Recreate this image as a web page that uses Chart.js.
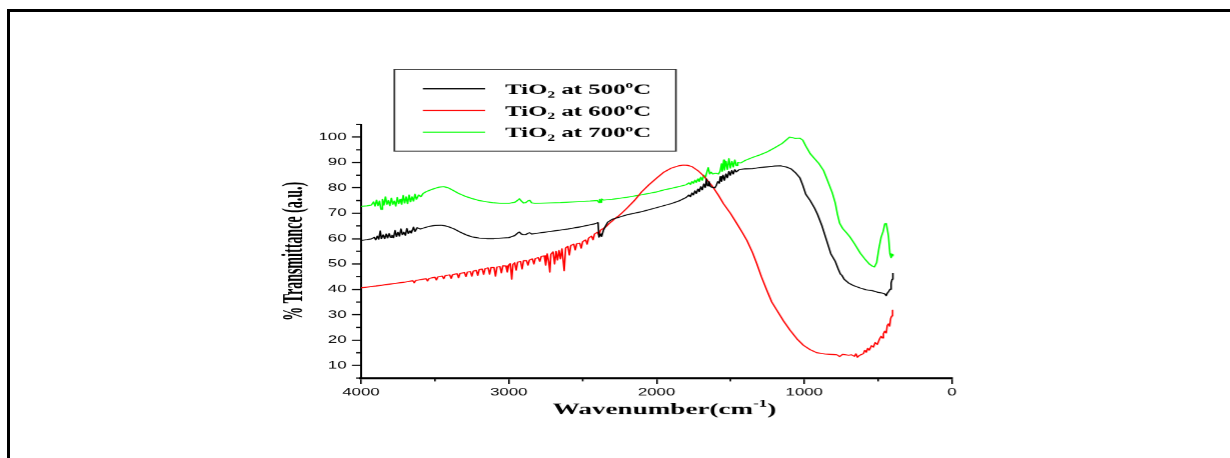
<!DOCTYPE html>
<html>
<head>
<meta charset="utf-8">
<title>FTIR TiO2</title>
<script src="https://cdn.jsdelivr.net/npm/chart.js@4.4.1/dist/chart.umd.min.js"></script>
<style>
  html, body { margin: 0; padding: 0; background: #fff; overflow: hidden; }
  #page { position: relative; width: 1230px; height: 458px; }
  #frame { position: absolute; left: 7px; top: 9px; right: 0; bottom: 0; border-top: 3px solid #000; border-left: 3px solid #000; }
  /* the original figure is stretched sideways, so the chart is drawn narrow and widened */
  #stretch { position: absolute; left: 0; top: 0; width: 769px; height: 458px; transform: scaleX(1.6); transform-origin: 0 0; }
</style>
</head>
<body>
<div id="page">
  <div id="frame"></div>
  <div id="stretch"><canvas id="ftirChart"></canvas></div>
</div>
<script>
const xTicks = [4000, 3000, 2000, 1000, 0];
const xMinorTicks = [3500, 2500, 1500, 500];
const yTicks = [10, 20, 30, 40, 50, 60, 70, 80, 90, 100];
const yMinorTicks = [5, 15, 25, 35, 45, 55, 65, 75, 85, 95, 105];
const temps = ['500', '600', '700'];
const xTitle = ['Wavenumber(cm', '-1', ')'];
const yTitle = '% Transmittance (a.u.)';

// [wavenumber, % transmittance]
const tio2At500 = [
  [4000, 59.3], [3960, 59.6], [3930, 59.9], [3910, 60.5], [3900, 59.5], [3890, 61], [3880, 59.8],
  [3870, 63], [3862, 60], [3850, 61.5], [3840, 60], [3830, 61.8], [3820, 60.3], [3810, 62],
  [3800, 60.5], [3790, 61.3], [3780, 60.4], [3770, 63.2], [3760, 60.8], [3750, 62.5], [3740, 61],
  [3730, 63.8], [3720, 61.5], [3710, 62.5], [3700, 61.3], [3690, 64], [3680, 62], [3670, 63],
  [3660, 62.2], [3645, 64.5], [3635, 62.8], [3620, 64.3], [3600, 63.8], [3570, 64.3], [3540, 64.8],
  [3500, 65.2], [3460, 65.3], [3430, 65], [3400, 64.5], [3370, 63.8], [3330, 62.6], [3290, 61.5],
  [3250, 60.7], [3200, 60.2], [3150, 60], [3100, 60], [3050, 60.2], [3000, 60.4], [2960, 61.2],
  [2940, 62.2], [2928, 62.6], [2915, 61.8], [2900, 61.5], [2885, 61.6], [2870, 62.1], [2858, 62.3],
  [2845, 61.8], [2800, 62.2], [2700, 63], [2600, 63.8], [2500, 64.8], [2420, 65.8], [2396, 66.3],
  [2390, 60.6], [2380, 61.8], [2372, 60.8], [2360, 63.2], [2345, 65], [2330, 66.5],
  [2300, 67.6], [2250, 68.5], [2200, 69.4], [2100, 70.6], [2000, 72.2], [1900, 73.8], [1850, 74.8],
  [1800, 76.2], [1780, 77.2], [1770, 76.5], [1760, 78], [1750, 77.2], [1740, 78.8], [1730, 77.8],
  [1720, 79.5], [1710, 78.5], [1700, 80.5], [1690, 79.2], [1680, 81.5], [1670, 80.2], [1662, 83.5],
  [1655, 80.8], [1645, 82.5], [1635, 80.5], [1620, 80.2], [1605, 80], [1595, 81], [1585, 82.5],
  [1575, 81.8], [1568, 84.5], [1560, 82.5], [1550, 85], [1540, 83], [1530, 85.5], [1520, 84],
  [1510, 86.5], [1500, 85], [1490, 86.8], [1480, 85.5], [1470, 87.2], [1460, 86.3], [1440, 87.2],
  [1400, 87.5], [1350, 87.6], [1300, 88], [1250, 88.3], [1200, 88.6], [1160, 88.7], [1120, 88.2],
  [1090, 87.5], [1060, 86], [1030, 84], [1010, 81], [990, 77.5], [960, 75], [930, 72], [910, 69.5],
  [880, 65], [850, 59.5], [820, 54], [790, 51], [770, 48], [755, 46], [745, 45.5], [730, 44],
  [700, 42.5], [667, 41.5], [620, 40.5], [580, 39.8], [540, 39.5], [500, 38.8], [470, 38.5],
  [455, 38.2], [445, 37.5], [438, 38.5], [430, 39], [420, 40], [412, 42.5], [405, 44], [400, 46.5],
];

const tio2At600 = [
  [4000, 40.6], [3900, 41.3], [3800, 42.1], [3700, 42.9], [3650, 43.4], [3640, 42.6], [3630, 43.5],
  [3600, 43.8], [3560, 44.2], [3550, 43.3], [3540, 44.3], [3500, 44.8], [3490, 43.7], [3480, 44.9],
  [3450, 45.2], [3440, 44.2], [3430, 45.4], [3400, 45.7], [3390, 44.3], [3380, 45.8], [3350, 46.2],
  [3340, 44.6], [3330, 46.3], [3300, 46.6], [3290, 45], [3280, 46.8], [3260, 47], [3250, 45.2],
  [3240, 47.2], [3220, 47.5], [3210, 45.5], [3200, 47.8], [3180, 48], [3170, 45.9], [3160, 48.2],
  [3140, 48.5], [3130, 46], [3120, 48.6], [3100, 48.6], [3090, 45.2], [3080, 48.8], [3060, 49],
  [3050, 46.5], [3040, 49.3], [3020, 49.2], [3010, 46.8], [3000, 49.6], [2990, 50.2], [2980, 44],
  [2972, 49.8], [2960, 50.5], [2950, 47.5], [2940, 50.7], [2920, 51], [2910, 48], [2900, 51.3],
  [2880, 51.3], [2870, 49.5], [2860, 51.6], [2840, 52], [2830, 50], [2820, 52.2], [2800, 52.5],
  [2790, 51], [2780, 53], [2760, 53.2], [2750, 49.5], [2740, 54], [2730, 51], [2722, 46.8],
  [2715, 53.8], [2700, 54.8], [2690, 50], [2680, 55], [2670, 51.5], [2660, 55.3], [2650, 52],
  [2640, 56], [2625, 47.3], [2615, 56.3], [2600, 57], [2590, 53.5], [2580, 57.3], [2560, 57.8],
  [2550, 55.5], [2540, 58], [2520, 58.2], [2510, 56.2], [2500, 58.8], [2480, 59.5], [2470, 57.8],
  [2460, 60.2], [2440, 61], [2430, 59.5], [2420, 61.8], [2400, 62.5], [2390, 61.2], [2380, 63.3],
  [2360, 64], [2340, 64.8], [2320, 66], [2300, 66.9], [2280, 68], [2260, 68.8], [2240, 69.8],
  [2200, 72], [2150, 75], [2100, 78.5], [2050, 81.3], [2000, 83.8], [1950, 86.2], [1900, 87.8],
  [1850, 88.7], [1820, 89], [1790, 88.9], [1760, 88.4], [1720, 86.8], [1690, 85.2], [1660, 83.3],
  [1620, 80.5], [1580, 77], [1546, 73.7], [1500, 70], [1456, 65.9], [1420, 62.5], [1388, 59.3],
  [1350, 54.5], [1321, 50.1], [1290, 45], [1253, 39.6], [1220, 35], [1185, 31.7], [1140, 27.5],
  [1095, 23.8], [1050, 20.5], [1005, 17.9], [960, 16.2], [914, 15], [860, 14.5], [800, 14.3],
  [779, 14.2], [760, 13.5], [740, 14.4], [700, 14], [680, 14.2], [660, 13.6], [650, 14.6],
  [640, 13.2], [630, 13.8], [615, 14.3], [600, 14.6], [590, 16], [580, 15.2], [570, 16.8],
  [560, 16], [545, 17.8], [532, 17.2], [520, 19], [505, 18.3], [490, 20.5], [480, 21.5],
  [470, 20.8], [464, 22.5], [455, 23.5], [445, 22.8], [438, 25.8], [430, 26.4], [422, 25.5],
  [415, 28.5], [408, 29.5], [404, 31.8], [400, 31.7],
];

const tio2At700 = [
  [4000, 72.7], [3960, 72.9], [3930, 73.2], [3915, 74.5], [3905, 72.8], [3895, 75.2], [3885, 73],
  [3875, 74.8], [3865, 71.5], [3855, 75.5], [3845, 73.2], [3835, 76.5], [3825, 73.5], [3815, 75],
  [3805, 73], [3795, 76], [3785, 73.5], [3775, 74.8], [3765, 72.8], [3755, 76.2], [3745, 73.8],
  [3735, 75.5], [3725, 73.5], [3715, 77], [3705, 74], [3695, 76.5], [3685, 73.8], [3675, 77.2],
  [3665, 74.5], [3655, 76.5], [3645, 74.8], [3635, 77.5], [3625, 75.5], [3610, 77.2], [3595, 76.5],
  [3580, 77.8], [3560, 78.5], [3530, 79.2], [3500, 79.8], [3470, 80.3], [3440, 80.5], [3410, 80],
  [3380, 79.1], [3340, 77.8], [3300, 76.8], [3250, 75.8], [3200, 75], [3150, 74.5], [3100, 74.1],
  [3050, 73.9], [3000, 73.9], [2960, 74.3], [2940, 75.1], [2928, 75.7], [2915, 74.8], [2900, 74],
  [2885, 74.2], [2870, 74.9], [2858, 75.1], [2845, 74.1], [2820, 73.9], [2750, 74], [2650, 74.2],
  [2550, 74.5], [2450, 74.8], [2400, 75], [2390, 74.2], [2385, 75.5], [2378, 74.3], [2372, 75.6],
  [2360, 75.2], [2300, 75.5], [2200, 76.3], [2100, 77.3], [2000, 78.4], [1950, 79.2], [1900, 79.8],
  [1850, 80.5], [1800, 81.2], [1780, 82], [1770, 81.3], [1760, 82.5], [1750, 81.8], [1740, 83],
  [1730, 82.2], [1720, 83.5], [1710, 82.5], [1700, 84.2], [1690, 83], [1680, 85], [1670, 84],
  [1660, 86], [1650, 88], [1640, 85.5], [1630, 86.2], [1620, 85.5], [1600, 85.8], [1580, 85.5],
  [1570, 86.5], [1560, 89.5], [1555, 86.5], [1545, 91], [1540, 87], [1530, 90.5], [1520, 87.2],
  [1510, 91.5], [1500, 87.8], [1490, 90.5], [1480, 88.2], [1470, 91], [1460, 88.8], [1450, 90],
  [1430, 89.8], [1400, 90.8], [1350, 92], [1300, 93], [1250, 94.2], [1200, 95.8], [1150, 97.5],
  [1120, 99], [1100, 100], [1080, 99.8], [1060, 99.5], [1030, 99.6], [1010, 98.8], [990, 96.5],
  [960, 93.5], [930, 91.5], [900, 89.5], [870, 86.9], [850, 84], [830, 81], [810, 78], [790, 74],
  [775, 69.5], [760, 66], [740, 64], [710, 62], [690, 60.6], [660, 58], [620, 54.2], [590, 52],
  [560, 50], [540, 49.2], [525, 48.8], [510, 50.5], [495, 56], [480, 60.5], [465, 63], [455, 65.8],
  [445, 66], [437, 63.5], [430, 61], [420, 54], [412, 52.5], [405, 53.8], [400, 53.2],
];

const toPoints = (rows) => rows.map(([x, y]) => ({ x, y }));

const serif = '"Liberation Serif", "Times New Roman", serif';

// draws text pieces [text, size, dy] on one line, widened by sx, starting at x
function drawRich(ctx, parts, x, y, sx) {
  ctx.save();
  ctx.translate(x, y);
  ctx.scale(sx, 1);
  let tx = 0;
  parts.forEach(([text, size, dy]) => {
    ctx.font = `bold ${size}px ${serif}`;
    ctx.fillText(text, tx, dy);
    tx += ctx.measureText(text).width;
  });
  ctx.restore();
}

function richWidth(ctx, parts) {
  return parts.reduce((w, [text, size]) => {
    ctx.font = `bold ${size}px ${serif}`;
    return w + ctx.measureText(text).width;
  }, 0);
}

// short unlabelled ticks between the numbered ones
const minorTicks = {
  id: 'minorTicks',
  afterDraw(chart) {
    const { ctx, scales: { x, y } } = chart;
    ctx.save();
    ctx.strokeStyle = '#000';
    ctx.lineWidth = 1.2;
    yMinorTicks.forEach((v) => {
      const py = y.getPixelForValue(v);
      ctx.beginPath();
      ctx.moveTo(y.right - 3.1, py);
      ctx.lineTo(y.right, py);
      ctx.stroke();
    });
    ctx.lineWidth = 1;
    xMinorTicks.forEach((v) => {
      const px = x.getPixelForValue(v);
      ctx.beginPath();
      ctx.moveTo(px, x.top);
      ctx.lineTo(px, x.top + 3.2);
      ctx.stroke();
    });
    ctx.restore();
  },
};

// axis titles with the cm-1 superscript
const axisTitles = {
  id: 'axisTitles',
  afterDraw(chart) {
    const { ctx, scales: { x, y } } = chart;
    ctx.save();
    ctx.fillStyle = '#000';
    ctx.textBaseline = 'alphabetic';
    ctx.textAlign = 'left';
    const xParts = [[xTitle[0], 16, 0], [xTitle[1], 10, -7], [xTitle[2], 16, 0]];
    const sx = 1.06;
    const w = richWidth(ctx, xParts) * sx;
    drawRich(ctx, xParts, x.left + x.width / 2 + 5 - w / 2, x.top + 35.8, sx);

    ctx.translate(184.4, (y.top + y.bottom) / 2);
    ctx.scale(1.28, 1);
    ctx.rotate(-Math.PI / 2);
    ctx.font = `bold 14px ${serif}`;
    ctx.textAlign = 'center';
    ctx.textBaseline = 'middle';
    ctx.fillText(yTitle, 0, 0);
    ctx.restore();
  },
};

// boxed legend with TiO2 subscript and degree superscript
const boxLegend = {
  id: 'boxLegend',
  afterDraw(chart) {
    const { ctx } = chart;
    ctx.save();
    ctx.fillStyle = '#fff';
    ctx.fillRect(246.4, 69.3, 175.9, 81.7);
    ctx.strokeStyle = '#333';
    ctx.lineWidth = 1.1;
    ctx.strokeRect(246.4, 69.3, 175.9, 81.7);
    chart.data.datasets.forEach((ds, i) => {
      const rowY = 88.7 + i * 21.65;
      ctx.strokeStyle = ds.borderColor;
      ctx.lineWidth = 1;
      ctx.beginPath();
      ctx.moveTo(264.2, rowY);
      ctx.lineTo(303.1, rowY);
      ctx.stroke();
      ctx.fillStyle = '#000';
      ctx.textBaseline = 'alphabetic';
      ctx.textAlign = 'left';
      const parts = [
        ['TiO', 14.5, 0], ['2', 9, 3.5], [` at ${temps[i]}`, 14.5, 0], ['o', 9, -6], ['C', 14.5, 0],
      ];
      drawRich(ctx, parts, 315.6, rowY + 5, 1.07);
    });
    ctx.restore();
  },
};

const ctx = document.getElementById('ftirChart').getContext('2d');

new Chart(ctx, {
  type: 'line',
  data: {
    datasets: [{
      label: `TiO₂ at ${temps[0]}°C`,
      data: toPoints(tio2At500),
      borderColor: '#000000',
      borderWidth: 1,
      borderJoinStyle: 'round',
      pointRadius: 0,
      tension: 0,
    }, {
      label: `TiO₂ at ${temps[1]}°C`,
      data: toPoints(tio2At600),
      borderColor: '#ff0000',
      borderWidth: 1,
      borderJoinStyle: 'round',
      pointRadius: 0,
      tension: 0,
    }, {
      label: `TiO₂ at ${temps[2]}°C`,
      data: toPoints(tio2At700),
      borderColor: '#00ff00',
      borderWidth: 1,
      borderJoinStyle: 'round',
      pointRadius: 0,
      tension: 0,
    }],
  },
  options: {
    responsive: true,
    maintainAspectRatio: false,
    devicePixelRatio: 1.6,
    animation: false,
    events: [],
    layout: {
      padding: { left: 0, top: 124.3, right: 174.2, bottom: 0 },
    },
    plugins: {
      legend: { display: false },
      tooltip: { enabled: false },
    },
    scales: {
      x: {
        type: 'linear',
        reverse: true,
        min: 0,
        max: 4000,
        afterBuildTicks: (scale) => { scale.ticks = xTicks.map((value) => ({ value })); },
        afterFit: (scale) => { scale.height = 80.3; },
        border: { display: true, color: '#000', width: 2 },
        grid: {
          drawOnChartArea: false,
          drawTicks: true,
          tickLength: 6,
          tickColor: '#000',
          tickWidth: 1,
        },
        ticks: {
          autoSkip: false,
          maxRotation: 0,
          padding: 2,
          color: '#000',
          font: { family: '"Liberation Sans", Arial, sans-serif', size: 10.5 },
          callback: (value) => String(value),
        },
      },
      y: {
        type: 'linear',
        min: 5,
        max: 105,
        afterBuildTicks: (scale) => { scale.ticks = yTicks.map((value) => ({ value })); },
        afterFit: (scale) => { scale.width = 225.6; },
        border: { display: true, color: '#000', width: 1.25 },
        grid: {
          drawOnChartArea: false,
          drawTicks: true,
          tickLength: 5.7,
          tickColor: '#000',
          tickWidth: 1.2,
        },
        ticks: {
          autoSkip: false,
          padding: 3.3,
          color: '#000',
          font: { family: '"Liberation Sans", Arial, sans-serif', size: 10.5 },
          callback: (value) => String(value),
        },
      },
    },
  },
  plugins: [minorTicks, axisTitles, boxLegend],
});
</script>
</body>
</html>
